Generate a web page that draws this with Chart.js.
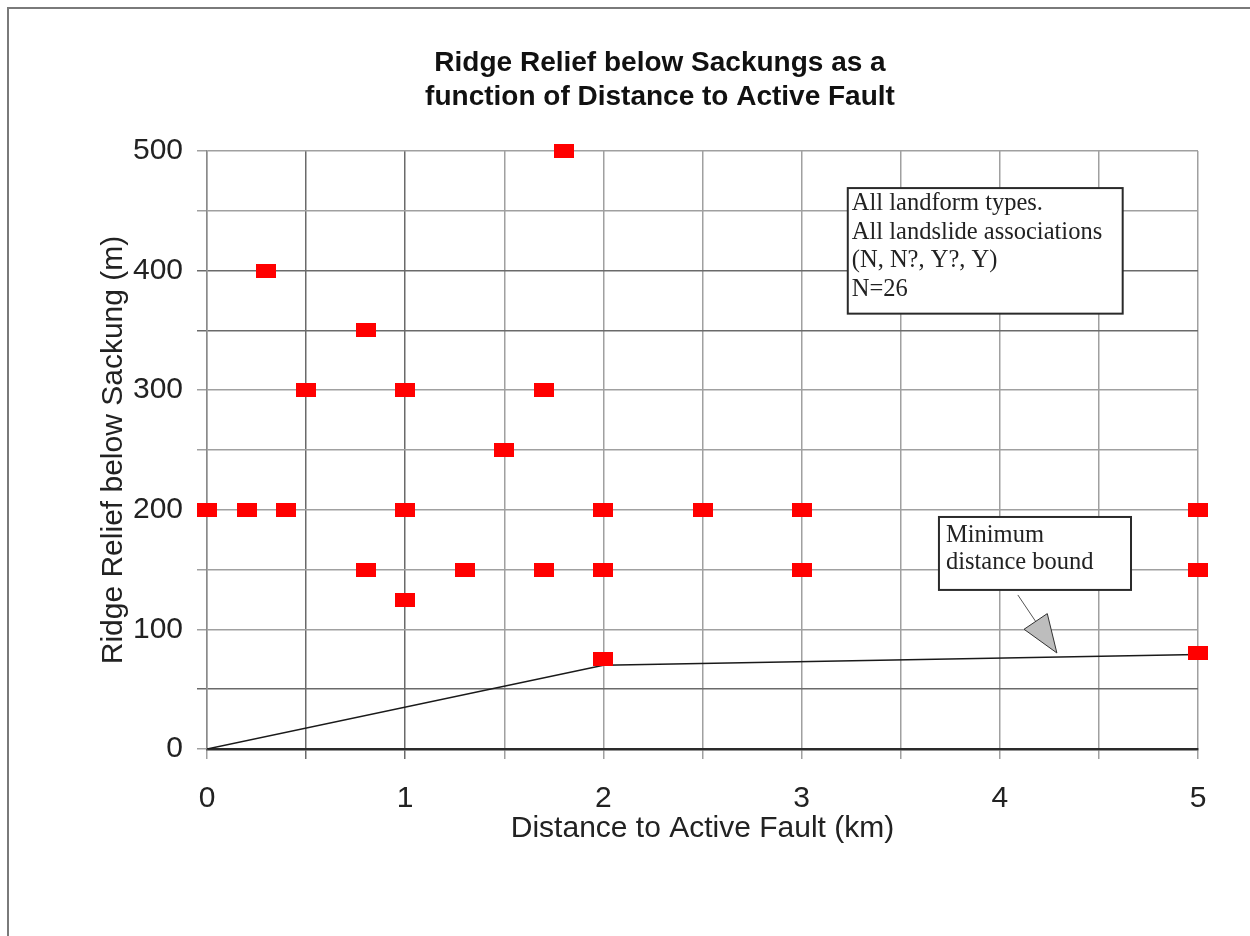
<!DOCTYPE html>
<html>
<head>
<meta charset="utf-8">
<script src="https://cdn.jsdelivr.net/npm/chart.js@4"></script>
<style>
  html, body { margin: 0; padding: 0; background: #fff; }
  #wrap { position: absolute; left: 0; top: 0; width: 1250px; height: 936px; }
</style>
</head>
<body>
<div id="wrap"><canvas id="sackungChart" width="1250" height="936"></canvas></div>
<script>
// Data
const DISTANCE_KM = [0, 0.2, 0.4, 0.3, 0.5, 0.8, 0.8, 1, 1, 1, 1.3, 1.5, 1.7, 1.7, 1.8, 2, 2, 2, 2.5, 3, 3, 5, 5, 5];
const RELIEF_M    = [200, 200, 200, 400, 300, 350, 150, 300, 200, 125, 150, 250, 300, 150, 500, 200, 150, 75, 200, 200, 150, 200, 150, 80];

// Minimum distance bound line
const BOUND_X = [0, 2, 5];
const BOUND_Y = [0, 70, 79];

const X_TICKS = [0, 1, 2, 3, 4, 5];
const Y_TICKS = [0, 100, 200, 300, 400, 500];

const TITLE_LINES = ['Ridge Relief below Sackungs as a', 'function of Distance to Active Fault'];
const NOTE_LINES = ['All landform types.', 'All landslide associations', '(N, N?, Y?, Y)', 'N=26'];
const BOUND_LABEL = ['Minimum', 'distance bound'];

// red rectangle marker (wider than tall, like the original)
const marker = document.createElement('canvas');
marker.width = 20;
marker.height = 14;
const mctx = marker.getContext('2d');
mctx.fillStyle = '#ff0000';
mctx.fillRect(0, 0, 20, 14);

const points = DISTANCE_KM.map((x, i) => ({x: x, y: RELIEF_M[i]}));
const bound = BOUND_X.map((x, i) => ({x: x, y: BOUND_Y[i]}));

// frame, title and the two text boxes
const decorations = {
    id: 'decorations',
    beforeDraw(chart) {
        const ctx = chart.ctx;
        ctx.save();
        ctx.fillStyle = '#ffffff';
        ctx.fillRect(0, 0, chart.width, chart.height);
        ctx.strokeStyle = '#7a7a7a';
        ctx.lineWidth = 2;
        ctx.beginPath();
        ctx.moveTo(8, chart.height);
        ctx.lineTo(8, 8);
        ctx.lineTo(chart.width, 8);
        ctx.stroke();
        ctx.restore();
    },
    afterDraw(chart) {
        const ctx = chart.ctx;
        const xs = chart.scales.x;
        const ys = chart.scales.y;
        ctx.save();

        // title
        ctx.fillStyle = '#111';
        ctx.font = 'bold 28px "Liberation Sans", Arial, sans-serif';
        ctx.textAlign = 'center';
        ctx.textBaseline = 'alphabetic';
        ctx.fillText(TITLE_LINES[0], 660, 71);
        ctx.fillText(TITLE_LINES[1], 660, 105);

        // note box
        ctx.font = '24.5px "Liberation Serif", "Times New Roman", serif';
        ctx.textAlign = 'left';
        let l = xs.getPixelForValue(3.233), r = xs.getPixelForValue(4.62);
        let t = ys.getPixelForValue(469), b = ys.getPixelForValue(364);
        ctx.fillStyle = '#fff';
        ctx.fillRect(l, t, r - l, b - t);
        ctx.strokeStyle = '#2a2a2a';
        ctx.lineWidth = 2;
        ctx.strokeRect(l, t, r - l, b - t);
        ctx.fillStyle = '#222';
        NOTE_LINES.forEach((s, i) => ctx.fillText(s, l + 4, t + 22 + i * 28.5));

        // bound label box
        l = xs.getPixelForValue(3.693); r = xs.getPixelForValue(4.662);
        t = ys.getPixelForValue(194); b = ys.getPixelForValue(133);
        ctx.fillStyle = '#fff';
        ctx.fillRect(l, t, r - l, b - t);
        ctx.strokeRect(l, t, r - l, b - t);
        ctx.fillStyle = '#222';
        BOUND_LABEL.forEach((s, i) => ctx.fillText(s, l + 7, t + 25 + i * 27));

        // arrow to the bound line
        const x0 = xs.getPixelForValue(4.091), y0 = ys.getPixelForValue(128.8);
        const x1 = xs.getPixelForValue(4.288), y1 = ys.getPixelForValue(80.3);
        const ang = Math.atan2(y1 - y0, x1 - x0);
        const headLen = 38, headW = 14;
        const bx = x1 - headLen * Math.cos(ang), by = y1 - headLen * Math.sin(ang);
        ctx.strokeStyle = '#555';
        ctx.lineWidth = 1;
        ctx.beginPath();
        ctx.moveTo(x0, y0);
        ctx.lineTo(bx, by);
        ctx.stroke();
        ctx.beginPath();
        ctx.moveTo(x1, y1);
        ctx.lineTo(bx + headW * Math.sin(ang), by - headW * Math.cos(ang));
        ctx.lineTo(bx - headW * Math.sin(ang), by + headW * Math.cos(ang));
        ctx.closePath();
        ctx.fillStyle = '#bdbdbd';
        ctx.fill();
        ctx.strokeStyle = '#333';
        ctx.stroke();

        ctx.restore();
    }
};

const tickFont = {family: '"Liberation Sans", Arial, sans-serif', size: 30};

new Chart(document.getElementById('sackungChart'), {
    type: 'scatter',
    data: {
        datasets: [{
            label: 'Sackungs',
            data: points,
            pointStyle: marker,
            pointRadius: 10,
            clip: false,
            order: 1
        }, {
            label: 'Minimum distance bound',
            data: bound,
            showLine: true,
            borderColor: '#1a1a1a',
            borderWidth: 1.5,
            pointRadius: 0,
            order: 2
        }]
    },
    options: {
        responsive: false,
        animation: false,
        layout: {
            padding: {top: 151, left: 0, right: 52, bottom: 0}
        },
        scales: {
            x: {
                type: 'linear',
                min: 0,
                max: 5,
                afterFit: scale => { scale.height = 187; },
                ticks: {
                    stepSize: 0.5,
                    autoSkip: false,
                    maxRotation: 0,
                    padding: 22,
                    color: '#222',
                    font: tickFont,
                    callback: v => X_TICKS.includes(v) ? String(v) : ''
                },
                grid: {
                    color: ctx => (ctx.tick && (ctx.tick.value === 0.5 || ctx.tick.value === 1)) ? '#6a6a6a' : '#a0a0a0',
                    lineWidth: 1.5,
                    tickLength: 10
                },
                border: {display: true, color: '#2a2a2a', width: 2.5},
                title: {
                    display: true,
                    text: 'Distance to Active Fault (km)',
                    color: '#222',
                    font: tickFont,
                    padding: {top: 0, bottom: 89}
                }
            },
            y: {
                type: 'linear',
                min: 0,
                max: 500,
                afterFit: scale => { scale.width = 207; },
                ticks: {
                    stepSize: 50,
                    autoSkip: false,
                    padding: 14,
                    color: '#222',
                    font: tickFont,
                    callback: v => Y_TICKS.includes(v) ? String(v) : ''
                },
                grid: {
                    color: ctx => (ctx.tick && [50, 350, 400].includes(ctx.tick.value)) ? '#6a6a6a' : '#a0a0a0',
                    lineWidth: 1.5,
                    tickLength: 10
                },
                border: {display: true, color: '#8a8a8a', width: 1.5},
                title: {
                    display: true,
                    text: 'Ridge Relief below Sackung (m)',
                    color: '#222',
                    font: tickFont,
                    padding: {top: 96, bottom: 0}
                }
            }
        },
        plugins: {
            legend: {display: false},
            title: {display: false},
            tooltip: {enabled: false}
        }
    },
    plugins: [decorations]
});
</script>
</body>
</html>
